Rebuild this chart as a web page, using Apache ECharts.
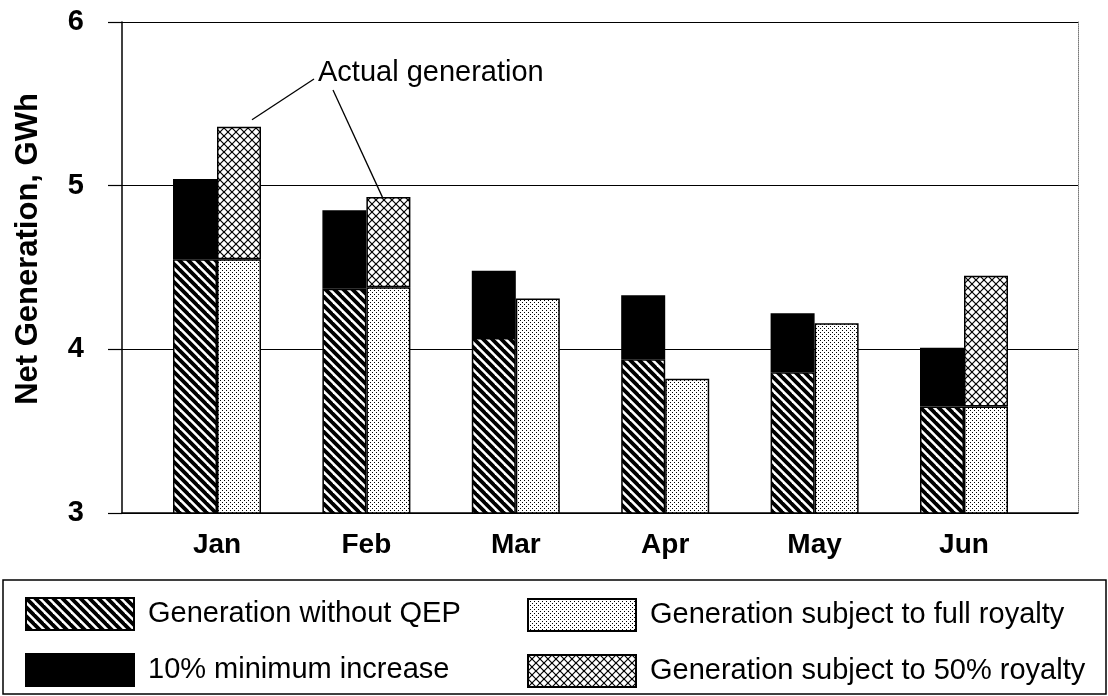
<!DOCTYPE html>
<html>
<head>
<meta charset="utf-8">
<script src="https://cdn.jsdelivr.net/npm/echarts@6/dist/echarts.min.js"></script>
<style>
html,body{margin:0;padding:0;background:#fff;}
#c{width:1108px;height:696px;}
</style>
</head>
<body>
<div id="c"></div>
<script>
// ---- data ----
var months = ['Jan', 'Feb', 'Mar', 'Apr', 'May', 'Jun'];
var yTicks = [3, 4, 5, 6];
// left bar: generation without QEP, and total incl. 10% minimum increase
var withoutQEP = [4.55, 4.37, 4.07, 3.94, 3.86, 3.65];
var withMinIncrease = [5.04, 4.85, 4.48, 4.33, 4.22, 4.01];
// right bar: generation subject to full royalty, and actual generation (total)
var fullRoyalty = [4.55, 4.38, 4.31, 3.82, 4.16, 3.65];
var actualGeneration = [5.36, 4.93, null, null, null, 4.45];

var names = ['Generation without QEP', '10% minimum increase',
             'Generation subject to full royalty', 'Generation subject to 50% royalty'];
var annotationText = 'Actual generation';
var yTitle = 'Net Generation, GWh';

// ---- derived stacked increments ----
var minIncrease = withMinIncrease.map(function (v, i) { return +(v - withoutQEP[i]).toFixed(3); });
var halfRoyalty = actualGeneration.map(function (v, i) { return v == null ? null : +(v - fullRoyalty[i]).toFixed(3); });

// ---- patterns ----
function makeCanvas(w, h) { var c = document.createElement('canvas'); c.width = w; c.height = h; return c; }
function hatchPattern() {
  var s = 9, c = makeCanvas(s, s), g = c.getContext('2d');
  g.fillStyle = '#fff'; g.fillRect(0, 0, s, s);
  g.strokeStyle = '#000'; g.lineWidth = 3.8; g.lineCap = 'square';
  for (var k = -1; k <= 1; k++) { g.beginPath(); g.moveTo(k * s - 1, -1); g.lineTo(k * s + s + 1, s + 1); g.stroke(); }
  return c;
}
function dotPattern() {
  var s = 4, c = makeCanvas(s, s), g = c.getContext('2d');
  g.fillStyle = '#fff'; g.fillRect(0, 0, s, s);
  g.fillStyle = '#000';
  g.fillRect(0, 0, 1, 1); g.fillRect(2, 2, 1, 1);
  return c;
}
function crossPattern() {
  var s = 8, c = makeCanvas(s, s), g = c.getContext('2d');
  g.fillStyle = '#fff'; g.fillRect(0, 0, s, s);
  g.strokeStyle = '#000'; g.lineWidth = 1.2;
  for (var k = -1; k <= 1; k++) {
    g.beginPath(); g.moveTo(k * s, 0); g.lineTo(k * s + s, s); g.stroke();
    g.beginPath(); g.moveTo(k * s + s, 0); g.lineTo(k * s, s); g.stroke();
  }
  return c;
}
var hatchFill = { image: hatchPattern(), repeat: 'repeat' };
var dotFill = { image: dotPattern(), repeat: 'repeat' };
var crossFill = { image: crossPattern(), repeat: 'repeat' };

var FONT = 'Liberation Sans, Arial, Helvetica, sans-serif';
var chart = echarts.init(document.getElementById('c'), null, { renderer: 'canvas' });

function barSeries(name, data, stack, fill) {
  return {
    name: name, type: 'bar', stack: stack, data: data,
    xAxisIndex: 1, yAxisIndex: 2,
    barWidth: 44, barGap: '0%',
    itemStyle: { color: fill, borderColor: '#000', borderWidth: 1.5 },
    emphasis: { disabled: true },
    animation: false
  };
}

var legendCommon = {
  orient: 'vertical', padding: 0, itemGap: 22, itemWidth: 108, itemHeight: 32,
  icon: 'rect', selectedMode: false,
  textStyle: { fontFamily: FONT, fontSize: 29, color: '#000', padding: [0, 0, 0, 9] }
};

chart.setOption({
  backgroundColor: '#fff',
  animation: false,
  grid: [
    { left: 122, right: 30, top: 22, bottom: 183 },
    { left: 142.3, right: 69.3, top: 22, bottom: 183 }
  ],
  xAxis: [
    { gridIndex: 0, type: 'category', data: months, axisLabel: { show: false }, axisTick: { show: false },
      axisLine: { show: true, lineStyle: { color: '#000', width: 1.5 } } },
    { gridIndex: 1, type: 'category', data: months, axisLine: { show: false }, axisTick: { show: false },
      axisLabel: { fontFamily: FONT, fontSize: 28, fontWeight: 'bold', color: '#000', margin: 18 } }
  ],
  yAxis: [
    { gridIndex: 0, type: 'value', min: yTicks[0], max: yTicks[yTicks.length - 1], interval: 1,
      axisLine: { show: true, lineStyle: { color: '#000', width: 1.5 } },
      axisTick: { show: true, inside: false, length: 14, lineStyle: { color: '#000', width: 1.2 } },
      axisLabel: { fontFamily: FONT, fontSize: 29, fontWeight: 'bold', color: '#000', margin: 38 },
      splitLine: { show: true, lineStyle: { color: '#000', width: 1.2 } } },
    { gridIndex: 0, type: 'value', position: 'right', min: 3, max: 6, interval: 1,
      axisLine: { show: true, lineStyle: { color: '#777', width: 1, type: 'dotted' } },
      axisTick: { show: false }, axisLabel: { show: false }, splitLine: { show: false } },
    { gridIndex: 1, type: 'value', min: 3, max: 6, interval: 1, show: false, splitLine: { show: false } }
  ],
  legend: [
    Object.assign({ data: [names[0], names[1]], left: 25, top: 597 }, legendCommon),
    Object.assign({ data: [names[2], names[3]], left: 527, top: 598 }, legendCommon)
  ],
  series: [
    barSeries(names[0], withoutQEP, 'left', hatchFill),
    barSeries(names[1], minIncrease, 'left', '#000'),
    barSeries(names[2], fullRoyalty, 'right', dotFill),
    barSeries(names[3], halfRoyalty, 'right', crossFill)
  ]
});

// annotation with leader lines anchored to the data
var janTop = chart.convertToPixel({ xAxisIndex: 1, yAxisIndex: 2 }, [0, actualGeneration[0]]);
var febTop = chart.convertToPixel({ xAxisIndex: 1, yAxisIndex: 2 }, [1, actualGeneration[1]]);
chart.setOption({
  graphic: [
    { type: 'text', x: 28, y: 249, rotation: Math.PI / 2, z: 10,
      style: { text: yTitle, font: 'bold 31px ' + FONT, fill: '#000', align: 'center', verticalAlign: 'middle' } },
    { type: 'text', left: 318, top: 58, z: 10,
      style: { text: annotationText, font: '29px ' + FONT, fill: '#000' } },
    { type: 'line', z: 10, shape: { x1: 314, y1: 79, x2: janTop[0] + 35, y2: janTop[1] - 7 },
      style: { stroke: '#000', lineWidth: 1.3 } },
    { type: 'line', z: 10, shape: { x1: 333, y1: 90, x2: febTop[0] + 16, y2: febTop[1] },
      style: { stroke: '#000', lineWidth: 1.3 } },
    { type: 'rect', z: 1, shape: { x: 3, y: 580, width: 1103, height: 114 },
      style: { fill: 'none', stroke: '#000', lineWidth: 1.5 } }
  ]
});
</script>
</body>
</html>
